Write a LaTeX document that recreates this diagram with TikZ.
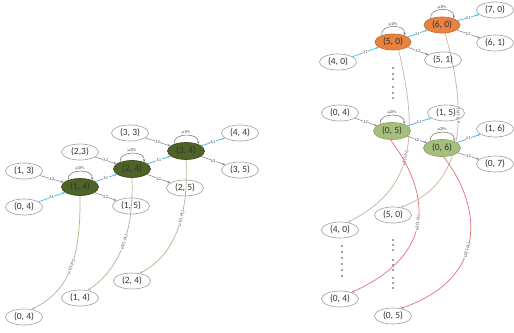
\documentclass[tikz,border=0pt]{standalone}
\usepackage{fontspec}
\setmainfont{Carlito}
\usetikzlibrary{arrows.meta,shapes.geometric,backgrounds}

\definecolor{ringgray}{HTML}{A8A8A8}
\definecolor{olivedark}{HTML}{4F6228}
\definecolor{orangefill}{HTML}{E8823E}
\definecolor{greenfill}{HTML}{A6C07C}
\definecolor{cyanedge}{HTML}{52C3E8}
\definecolor{grayedge}{HTML}{8C8CA0}
\definecolor{olivecurve}{HTML}{B8B08C}
\definecolor{tancurve}{HTML}{C9B29A}
\definecolor{redcurve}{HTML}{E07079}
\definecolor{labeltext}{HTML}{505050}

\begin{document}
\begin{tikzpicture}[x=1pt,y=1pt,
  stnode/.style={ellipse, draw=ringgray, line width=0.7pt, minimum width=37pt,
    minimum height=16pt, inner sep=0pt, text=black!80,
    font=\fontsize{9.5}{10}\selectfont},
  darknode/.style={stnode, fill=olivedark, draw=olivedark!80!black,
    minimum width=37pt, minimum height=17pt},
  orangenode/.style={stnode, fill=orangefill, draw=orangefill!85!black,
    minimum width=36pt, minimum height=16pt},
  greennode/.style={stnode, fill=greenfill, draw=greenfill!85!black,
    minimum width=37pt, minimum height=17pt},
  tip/.style={-{Stealth[length=3pt,width=2.4pt]}},
  lamone/.style={tip, draw=cyanedge, line width=0.8pt},
  lamtwo/.style={tip, draw=grayedge, line width=0.6pt},
  selfloop/.style={tip, draw=gray, line width=0.6pt},
  longcurve/.style={tip, line width=0.7pt},
  lbl/.style={font=\fontsize{4.5}{5}\selectfont, text=labeltext, fill=white,
    inner sep=0.4pt},
  looplbl/.style={font=\fontsize{4.5}{5}\selectfont, text=labeltext,
    inner sep=0.5pt, above},
  longlbl/.style={font=\fontsize{4.5}{5}\selectfont, text=labeltext, fill=white,
    inner sep=0.4pt, sloped},
  dotmark/.style={fill=black!75}
]
\useasboundingbox (0,0) rectangle (514,-332);

% ---------------- left chain states ----------------
\node[stnode] (n33) at (130,-133) {(3, 3)};
\node[stnode] (n44) at (240,-133) {(4, 4)};
\node[darknode] (f34) at (186,-151) {(3, 4)};
\node[stnode] (n23) at (80,-152) {(2,3)};
\node[darknode] (f24) at (132,-169) {(2, 4)};
\node[stnode] (n35) at (240,-170) {(3, 5)};
\node[stnode] (n13) at (24,-171) {(1, 3)};
\node[darknode] (f14) at (80,-187) {(1, 4)};
\node[stnode] (n25) at (185,-188) {(2, 5)};
\node[stnode] (n04) at (24,-207) {(0, 4)};
\node[stnode] (n15) at (131,-206) {(1, 5)};
\node[stnode] (b24) at (132,-281) {(2, 4)};
\node[stnode] (b14) at (80,-298) {(1, 4)};
\node[stnode] (b04) at (24,-317) {(0, 4)};

% ---------------- right chain states ----------------
\node[stnode] (r70) at (495,-10) {(7, 0)};
\node[orangenode] (r60) at (442,-25) {(6, 0)};
\node[stnode] (r61) at (495,-43) {(6, 1)};
\node[orangenode] (r50) at (393,-42) {(5, 0)};
\node[stnode] (r40) at (338,-62) {(4, 0)};
\node[stnode] (r51) at (443,-60) {(5, 1)};
\node[stnode] (r04) at (340,-113) {(0, 4)};
\node[stnode] (r15) at (446,-113) {(1, 5)};
\node[greennode] (g05) at (392,-131) {(0, 5)};
\node[greennode] (g06) at (442,-148) {(0, 6)};
\node[stnode] (r16) at (495,-129) {(1, 6)};
\node[stnode] (r07) at (495,-164) {(0, 7)};
\node[stnode] (s50) at (393,-215) {(5, 0)};
\node[stnode] (s40) at (340,-230) {(4, 0)};
\node[stnode] (s04) at (340,-299) {(0, 4)};
\node[stnode] (s05) at (393,-316) {(0, 5)};

% long transitions, kept behind the states
\begin{scope}[on background layer]
\draw[longcurve, draw=olivecurve] (f14.south)
  .. controls (81,-265) and (66,-292) .. node[longlbl, pos=0.45] {μ1(1-Pc)} (b04.45);
\draw[longcurve, draw=olivecurve] (f24.south)
  .. controls (134,-235) and (118,-270) .. node[longlbl, pos=0.45] {μ1(1-Pc)} (b14.45);
\draw[longcurve, draw=olivecurve] (f34.south)
  .. controls (189,-215) and (175,-255) .. node[longlbl, pos=0.4] {μ1(1-Pc)} (b24.45);

\draw[longcurve, draw=tancurve] (r50.-55)
  .. controls (420,-140) and (412,-190) .. node[longlbl, pos=0.5] {μ1(1-Pc)} (s40.45);
\draw[longcurve, draw=tancurve] (r60.-70)
  .. controls (470,-120) and (462,-185) .. node[longlbl, pos=0.35] {μ1(1-Pc)} (s50.45);
\draw[longcurve, draw=redcurve] (g05.-100)
  .. controls (432,-195) and (435,-255) .. node[longlbl, pos=0.5] {μ2(1-Pc)} (s04.30);
\draw[longcurve, draw=redcurve] (g06.-80)
  .. controls (485,-210) and (485,-280) .. node[longlbl, pos=0.55] {μ2(1-Pc)} (s05.45);
\end{scope}

% ---------------- left chain transitions ----------------
\draw[lamone] (n04) -- node[lbl] {λ1} (f14);
\draw[lamtwo] (n13) -- node[lbl] {λ2} (f14);
\draw[lamone] (f14) -- node[lbl] {λ1} (f24);
\draw[lamtwo] (f14) -- node[lbl] {λ2} (n15);
\draw[lamtwo] (n23) -- node[lbl] {λ2} (f24);
\draw[lamone] (f24) -- node[lbl] {λ1} (f34);
\draw[lamtwo] (f24) -- node[lbl] {λ2} (n25);
\draw[lamtwo] (n33) -- node[lbl] {λ2} (f34);
\draw[lamone] (f34) -- node[lbl] {λ1} (n44);
\draw[lamtwo] (f34) -- node[lbl] {λ2} (n35);

\draw[selfloop] (f14.150) .. controls +(100:12) and +(80:12) .. node[looplbl] {μ1Pc} (f14.30);
\draw[selfloop] (f24.150) .. controls +(100:12) and +(80:12) .. node[looplbl] {μ1Pc} (f24.30);
\draw[selfloop] (f34.150) .. controls +(100:12) and +(80:12) .. node[looplbl] {μ1Pc} (f34.30);

% ---------------- right chain transitions ----------------
\draw[lamone] (r40) -- node[lbl] {λ1} (r50);
\draw[lamone] (r50) -- node[lbl] {λ1} (r60);
\draw[lamone] (r60) -- node[lbl] {λ1} (r70);
\draw[lamtwo] (r50) -- node[lbl] {λ2} (r51);
\draw[lamtwo] (r60) -- node[lbl] {λ2} (r61);
\draw[selfloop] (r50.150) .. controls +(100:12) and +(80:12) .. node[looplbl] {μ1Pc} (r50.30);
\draw[selfloop] (r60.150) .. controls +(100:12) and +(80:12) .. node[looplbl] {μ1Pc} (r60.30);

\draw[lamtwo] (r04) -- node[lbl] {λ2} (g05);
\draw[lamone] (g05) -- node[lbl] {λ1} (r15);
\draw[lamtwo] (g05) -- node[lbl] {λ2} (g06);
\draw[lamone] (g06) -- node[lbl] {λ1} (r16);
\draw[lamtwo] (g06) -- node[lbl] {λ2} (r07);
\draw[selfloop] (g05.150) .. controls +(100:12) and +(80:12) .. node[looplbl] {μ2Pc} (g05.30);
\draw[selfloop] (g06.150) .. controls +(100:12) and +(80:12) .. node[looplbl] {μ2Pc} (g06.30);

% ---------------- ellipsis dots ----------------
\foreach \yy in {68,74,79,87,93,98}
  \fill[dotmark] (393,-\yy) circle (0.9pt);
\foreach \yy in {246,252,258,264,270,276}
  \fill[dotmark] (342,-\yy) circle (0.9pt);
\foreach \yy in {240,245,250,260,265,270,278,283,288}
  \fill[dotmark] (393,-\yy) circle (0.9pt);
\end{tikzpicture}
\end{document}
